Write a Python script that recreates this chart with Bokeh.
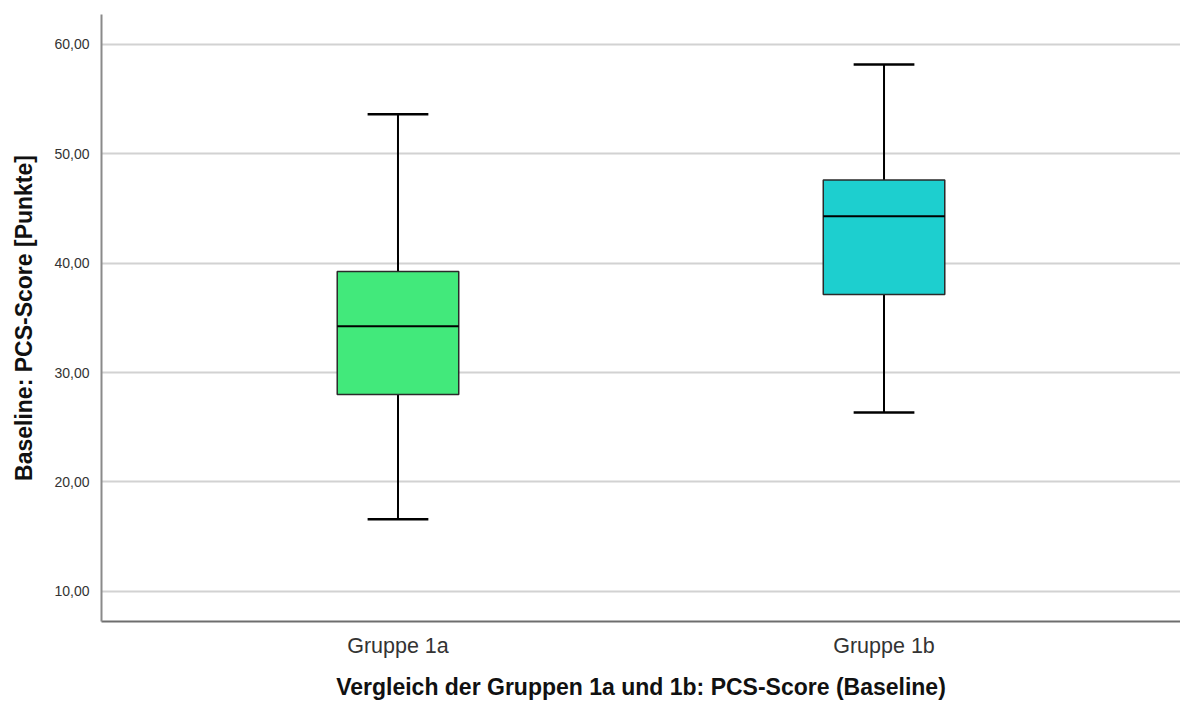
from bokeh.plotting import figure
from bokeh.models import ColumnDataSource, FactorRange, FixedTicker
from bokeh.transform import dodge
from bokeh.embed import file_html
from bokeh.resources import INLINE

# Box-plot statistics per group (PCS score at baseline)
groups = ["Gruppe 1a", "Gruppe 1b"]
whisker_low = [16.6, 26.35]
q1 = [28.0, 37.13]
median = [34.23, 44.29]
q3 = [39.25, 47.6]
whisker_high = [53.62, 58.17]
box_colors = ["#42E97B", "#1DCFCF"]

y_ticks = [10, 20, 30, 40, 50, 60]
y_tick_labels = ["10,00", "20,00", "30,00", "40,00", "50,00", "60,00"]

FONT = "Liberation Sans"

src = ColumnDataSource(dict(
    g=groups, lo=whisker_low, q1=q1, med=median, q3=q3, hi=whisker_high, color=box_colors,
))

x_range = FactorRange(*groups, range_padding=0.11, range_padding_units="percent")

p = figure(
    width=1180, height=702, x_range=x_range, y_range=(7.24, 62.74),
    output_backend="svg", toolbar_location=None,
    min_border_left=101, min_border_right=0, min_border_top=14, min_border_bottom=81,
)
p.outline_line_color = None
p.background_fill_color = "white"
p.border_fill_color = "white"

# grid
p.xgrid.grid_line_color = None
p.ygrid.grid_line_color = "#d2d2d2"
p.ygrid.grid_line_width = 2

# y axis
p.yaxis.ticker = FixedTicker(ticks=y_ticks)
p.yaxis.major_label_overrides = {t: lab for t, lab in zip(y_ticks, y_tick_labels)}
p.yaxis.axis_label = "Baseline: PCS-Score [Punkte]"
p.yaxis.major_tick_line_color = None
p.yaxis.minor_tick_line_color = None
p.yaxis.major_label_standoff = 6
p.yaxis.axis_label_standoff = 14
p.yaxis.axis_line_color = "#8a8a8a"
p.yaxis.axis_line_width = 2

# x axis
p.xaxis.axis_label = "Vergleich der Gruppen 1a und 1b: PCS-Score (Baseline)"
p.xaxis.major_tick_line_color = None
p.xaxis.minor_tick_line_color = None
p.xaxis.major_label_standoff = 6
p.xaxis.axis_label_standoff = 13
p.xaxis.axis_line_color = "#6e6e6e"
p.xaxis.axis_line_width = 2

for ax in (p.xaxis, p.yaxis):
    ax.major_label_text_font = FONT
    ax.major_label_text_color = "#333333"
    ax.axis_label_text_font = FONT
    ax.axis_label_text_font_style = "bold"
    ax.axis_label_text_color = "#111111"
    ax.axis_label_text_font_size = "23px"
p.yaxis.major_label_text_font_size = "14px"
p.xaxis.major_label_text_font_size = "21.5px"

# whiskers
p.segment(x0="g", y0="q3", x1="g", y1="hi", source=src, line_color="black", line_width=2)
p.segment(x0="g", y0="lo", x1="g", y1="q1", source=src, line_color="black", line_width=2)

# whisker caps
cap_l = dodge("g", -0.0625, range=x_range)
cap_r = dodge("g", 0.0625, range=x_range)
p.segment(x0=cap_l, y0="hi", x1=cap_r, y1="hi", source=src, line_color="black", line_width=2.5)
p.segment(x0=cap_l, y0="lo", x1=cap_r, y1="lo", source=src, line_color="black", line_width=2.5)

# boxes
p.vbar(x="g", width=0.25, bottom="q1", top="q3", source=src,
       fill_color="color", line_color="#2a2a2a", line_width=1.5)

# medians
med_l = dodge("g", -0.125, range=x_range)
med_r = dodge("g", 0.125, range=x_range)
p.segment(x0=med_l, y0="med", x1=med_r, y1="med", source=src, line_color="black", line_width=2)

open("out.html", "w").write(file_html(p, INLINE))
